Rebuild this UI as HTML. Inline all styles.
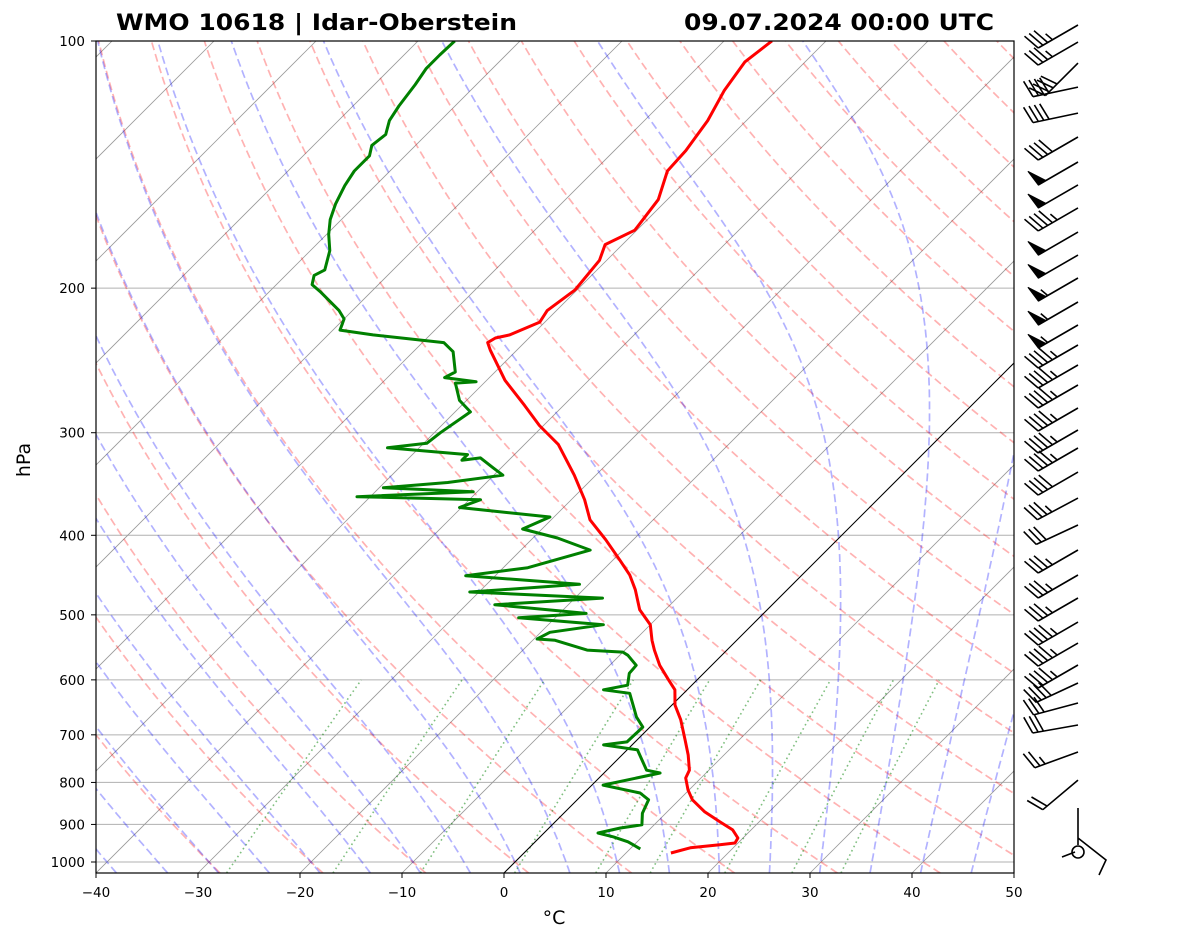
<!DOCTYPE html>
<html><head><meta charset="utf-8"><style>
html,body{margin:0;padding:0;background:#fff;}
svg{display:block;font-family:"DejaVu Sans","Liberation Sans",sans-serif;}
</style></head><body>
<svg id="chart" width="1181" height="941" viewBox="0 0 1181 941" xmlns="http://www.w3.org/2000/svg">
<defs><clipPath id="plotclip"><rect x="96" y="41" width="918" height="832"/></clipPath></defs>
<rect x="0" y="0" width="1181" height="941" fill="#fff"/>
<text x="116" y="30" font-size="22" font-weight="bold" textLength="401" lengthAdjust="spacingAndGlyphs">WMO 10618 | Idar-Oberstein</text>
<text x="684" y="30" font-size="22" font-weight="bold" textLength="310" lengthAdjust="spacingAndGlyphs">09.07.2024 00:00 UTC</text>
<g id="bg" clip-path="url(#plotclip)"></g>
<g id="prof" clip-path="url(#plotclip)"></g>
<g id="axes"></g>
<g id="barbs"></g>
<text x="0" y="0" font-size="19" text-anchor="middle" transform="translate(30,460) rotate(-90)">hPa</text>
<text x="554" y="924" font-size="19" text-anchor="middle">°C</text>
</svg>
<script>
// ---- data ----
const tempP = [975,961,953,948,935,914,894,869,840,817,790,773,741,710,671,644,617,600,576,552,537,514,493,466,447,429,405,383,362,338,310,294,278,259,238,233,230,228,220,213,201,185,177,170,156,144,136,125,115,106,100];
const tempT = [14.4,15.8,18.4,19.7,19.5,18.2,16.2,13.7,11.3,9.9,8.5,8.1,6.5,4.7,2.3,0.3,-1.2,-2.8,-5.1,-7.1,-8.3,-10.0,-12.5,-14.9,-16.9,-19.3,-22.7,-26.2,-28.7,-32.1,-36.7,-40.4,-43.8,-48.2,-52.6,-53.6,-53.3,-52.2,-50.5,-50.9,-50.2,-50.7,-51.7,-50.2,-50.9,-52.8,-53.0,-53.8,-55.1,-55.9,-55.3];
const dewP = [964,945,932,922,909,901,872,840,824,806,779,773,730,720,714,685,666,644,623,617,609,589,576,560,555,552,537,535,525,514,504,498,486,477,469,459,448,438,417,403,393,380,370,362,359,354,350,345,338,331,322,324,319,313,309,300,283,274,261,260,257,253,239,233,228,225,218,213,202,198,193,190,180,172,165,158,150,144,138,134,130,125,120,113,108,104,100];
const dewT = [11.0,9.1,7.2,5.3,7.0,8.8,7.7,7.0,5.5,1.1,5.5,3.9,1.0,-2.8,-0.8,-0.7,-2.3,-3.8,-5.3,-8.2,-6.3,-7.3,-7.4,-9.2,-10.0,-13.7,-17.8,-19.7,-19.1,-14.6,-23.6,-17.4,-27.2,-17.3,-30.9,-20.9,-32.9,-27.6,-23.2,-27.6,-31.9,-30.4,-40.2,-38.9,-51.3,-40.4,-49.6,-43.8,-39.1,-40.8,-43.0,-44.6,-44.6,-53.1,-49.7,-49.4,-48.5,-50.7,-52.8,-50.9,-54.4,-53.9,-56.1,-57.9,-65.6,-69.3,-70.0,-71.3,-75.0,-76.5,-77.2,-76.7,-78.1,-79.8,-81.1,-82.1,-83.0,-83.5,-83.5,-84.3,-84.0,-85.0,-85.5,-86.0,-86.5,-86.5,-86.4];
const windP = [95.6,100.3,106.4,113.8,122.4,130.9,140.4,149.7,159.7,170.9,182.3,194.4,207.9,221.8,234.6,248.1,262.4,279.9,297.7,313.1,335.0,360.4,388.6,416.9,447.1,476.9,510.3,541.2,575.5,605.3,640.3,681.0,734.5,794.8];
const windSpd = [35,35,40,40,40,40,50,50,45,50,50,55,55,55,45,45,45,45,45,45,40,35,30,35,35,35,45,45,45,40,30,30,25,20];
const windDir = [240,240,225,258,258,240,240,240,240,240,240,240,240,240,240,240,240,240,240,240,240,242,245,240,240,240,240,240,240,245,255,260,250,230];
const xTicks = [-40,-30,-20,-10,0,10,20,30,40,50];
const pTicks = [100,200,300,400,500,600,700,800,900,1000];
const dryT0 = [-30,-20,-10,0,10,20,30,40,50,60,70,80,90,100,110,120,130,140,150,160,170,180,190];
const moistT0 = [-40,-35,-30,-25,-20,-15,-10,-5,0,5,10,15,20,25,30,35,40,45,50];
const mixW = [0.0004,0.001,0.002,0.004,0.007,0.01,0.016,0.024,0.032];

// ---- axes functions ----
const NS="http://www.w3.org/2000/svg";
const PBOT = Math.pow(10, 2 + 832/821);
function yP(p){ return 41 + (Math.log10(p) - 2) * 821; }
function xT(T, p){ return 504 + 10.2 * T + (873 - yP(p)); }
function mk(tag, attrs, parent){ const e=document.createElementNS(NS,tag); for(const k in attrs) e.setAttribute(k, attrs[k]); parent.appendChild(e); return e; }
function pathFrom(ps, ts){ let d=""; for(let i=0;i<ps.length;i++){ d += (i?"L":"M") + xT(ts[i],ps[i]).toFixed(1) + "," + yP(ps[i]).toFixed(1); } return d; }
const bg=document.getElementById('bg'), prof=document.getElementById('prof'), axes=document.getElementById('axes'), barbs=document.getElementById('barbs');

// horizontal grid
pTicks.forEach(p=>{
  const l=mk('line',{x1:96,x2:1014,y1:yP(p),y2:yP(p),stroke:'#b0b0b0','stroke-width':1},bg);
  
  
});
// isotherms
for(let T=-160;T<=50;T+=10){
  const l=mk('line',{x1:xT(T,PBOT),y1:yP(PBOT),x2:xT(T,90),y2:yP(90),stroke:'#999','stroke-width':0.8},bg);
  
  
}
// dry adiabats
const plevs=[]; for(let p=PBOT;p>=95;p-=5) plevs.push(p); plevs.push(95);
dryT0.forEach(t0=>{
  const th=t0+273.15; const ts=plevs.map(p=>th*Math.pow(p/1000,0.2857)-273.15);
  const e=mk('path',{d:pathFrom(plevs,ts),fill:'none',stroke:'rgba(255,0,0,0.3)','stroke-width':1.7,'stroke-dasharray':'8,4'},bg);
  
  
});
// moist adiabats
function es(T){ return 6.112*Math.exp(17.67*T/(T+243.5)); }
function dTdp(p,Tc){ const T=Tc+273.15; const e=es(Tc); const rs=0.622*e/(p-e); const Rd=287.04,Cp=1005.7,Lv=2.501e6;
  return (Rd*T + Lv*rs)/(Cp + Lv*Lv*rs*0.622/(Rd*T*T))/p; }
function integ(t0, p0, p1, step){ const ps=[p0], ts=[t0]; let p=p0, T=t0; const n=Math.ceil(Math.abs(p1-p0)/step); const h=(p1-p0)/n;
  for(let i=0;i<n;i++){ const k1=dTdp(p,T); const k2=dTdp(p+h/2,T+k1*h/2); const k3=dTdp(p+h/2,T+k2*h/2); const k4=dTdp(p+h,T+k3*h); T+=h*(k1+2*k2+2*k3+k4)/6; p+=h; ps.push(p); ts.push(T); }
  return [ps,ts]; }
moistT0.forEach(t0=>{
  const up=integ(t0,1000,95,5), dn=integ(t0,1000,PBOT,5);
  const ps=dn[0].slice().reverse().concat(up[0].slice(1)); const ts=dn[1].slice().reverse().concat(up[1].slice(1));
  const e=mk('path',{d:pathFrom(ps,ts),fill:'none',stroke:'rgba(0,0,255,0.3)','stroke-width':1.7,'stroke-dasharray':'8,4'},bg);
  
  
});
// mixing ratio lines
mixW.forEach(w=>{
  const ps=[],ts=[]; for(let p=PBOT;p>=600;p-=10){ ps.push(p); } ps.push(600);
  ps.forEach(p=>{ const e=w*p/(0.622+w); const L=Math.log(e/6.112); ts.push(243.5*L/(17.67-L)); });
  const el=mk('path',{d:pathFrom(ps,ts),fill:'none',stroke:'rgba(0,128,0,0.5)','stroke-width':1.6,'stroke-dasharray':'1.6,3.2'},bg);
  
  
});
// zero isotherm
const z=mk('line',{x1:xT(0,PBOT),y1:yP(PBOT),x2:xT(0,90),y2:yP(90),stroke:'#000','stroke-width':1},bg);



// profiles
const tl=mk('path',{d:pathFrom(tempP,tempT),fill:'none',stroke:'#ff0000','stroke-width':3,'stroke-linejoin':'round'},prof);


const dl=mk('path',{d:pathFrom(dewP,dewT),fill:'none',stroke:'#008000','stroke-width':3,'stroke-linejoin':'round'},prof);



// axes frame and ticks
const fr=mk('rect',{x:96,y:41,width:918,height:832,fill:'none',stroke:'#000','stroke-width':1.2},axes);


xTicks.forEach(t=>{
  const x=504+10.2*t;
  const l=mk('line',{x1:x,x2:x,y1:873,y2:878,stroke:'#000','stroke-width':1},axes);
  
  
  const tx=mk('text',{x:x,y:897,'font-size':13.5,'text-anchor':'middle'},axes);
  tx.textContent=(t<0?'\u2212'+(-t):String(t));
  
  
});
pTicks.forEach(p=>{
  const y=yP(p);
  const l=mk('line',{x1:91,x2:96,y1:y,y2:y,stroke:'#000','stroke-width':1},axes);
  
  
  const tx=mk('text',{x:85,y:y+5,'font-size':13.5,'text-anchor':'end'},axes);
  tx.textContent=String(p);
  
  
});

// wind barbs
windP.forEach((p,i)=>{
  const bx=1078, by=yP(p); const d=windDir[i]*Math.PI/180;
  const ux=Math.sin(d), uy=-Math.cos(d); // screen vector toward origin direction
  const L=46; const tx=bx+ux*L, ty=by+uy*L;
  const nx=-uy, ny=ux; // perpendicular (upper side)
  const g=mk('g',{},barbs);
  
  
  let dpath="M"+bx+","+by.toFixed(1)+"L"+tx.toFixed(1)+","+ty.toFixed(1);
  let s=windSpd[i]; let pos=0; let flags="";
  const fx=(k,len,ang)=>[tx-ux*k+(nx*len)+ux*ang, ty-uy*k+(ny*len)+uy*ang];
  while(s>=50){ const a=[tx-ux*pos,ty-uy*pos], b=[tx-ux*(pos+9),ty-uy*(pos+9)]; const c=[a[0]+nx*17+ux*2,a[1]+ny*17+uy*2];
    flags+="M"+a[0].toFixed(1)+","+a[1].toFixed(1)+"L"+c[0].toFixed(1)+","+c[1].toFixed(1)+"L"+b[0].toFixed(1)+","+b[1].toFixed(1)+"Z"; pos+=11; s-=50; }
  while(s>=10){ const e=fx(pos,17,6); dpath+="M"+(tx-ux*pos).toFixed(1)+","+(ty-uy*pos).toFixed(1)+"L"+e[0].toFixed(1)+","+e[1].toFixed(1); pos+=5.5; s-=10; }
  if(s>=5){ if(pos===0) pos=5.5; const e=fx(pos,8.5,3); dpath+="M"+(tx-ux*pos).toFixed(1)+","+(ty-uy*pos).toFixed(1)+"L"+e[0].toFixed(1)+","+e[1].toFixed(1); }
  mk('path',{d:dpath,fill:'none',stroke:'#000','stroke-width':1.6},g);
  if(flags) mk('path',{d:flags,fill:'#000',stroke:'#000','stroke-width':1},g);
});
// surface odd barb
const sb=mk('g',{},barbs);


mk('path',{d:"M1078,808L1078,845M1078,838L1106,860L1099,875M1062,857L1075,852",fill:'none',stroke:'#000','stroke-width':1.6},sb);
mk('circle',{cx:1078,cy:852,r:6,fill:'none',stroke:'#000','stroke-width':1.6},sb);
</script>
</body></html>
